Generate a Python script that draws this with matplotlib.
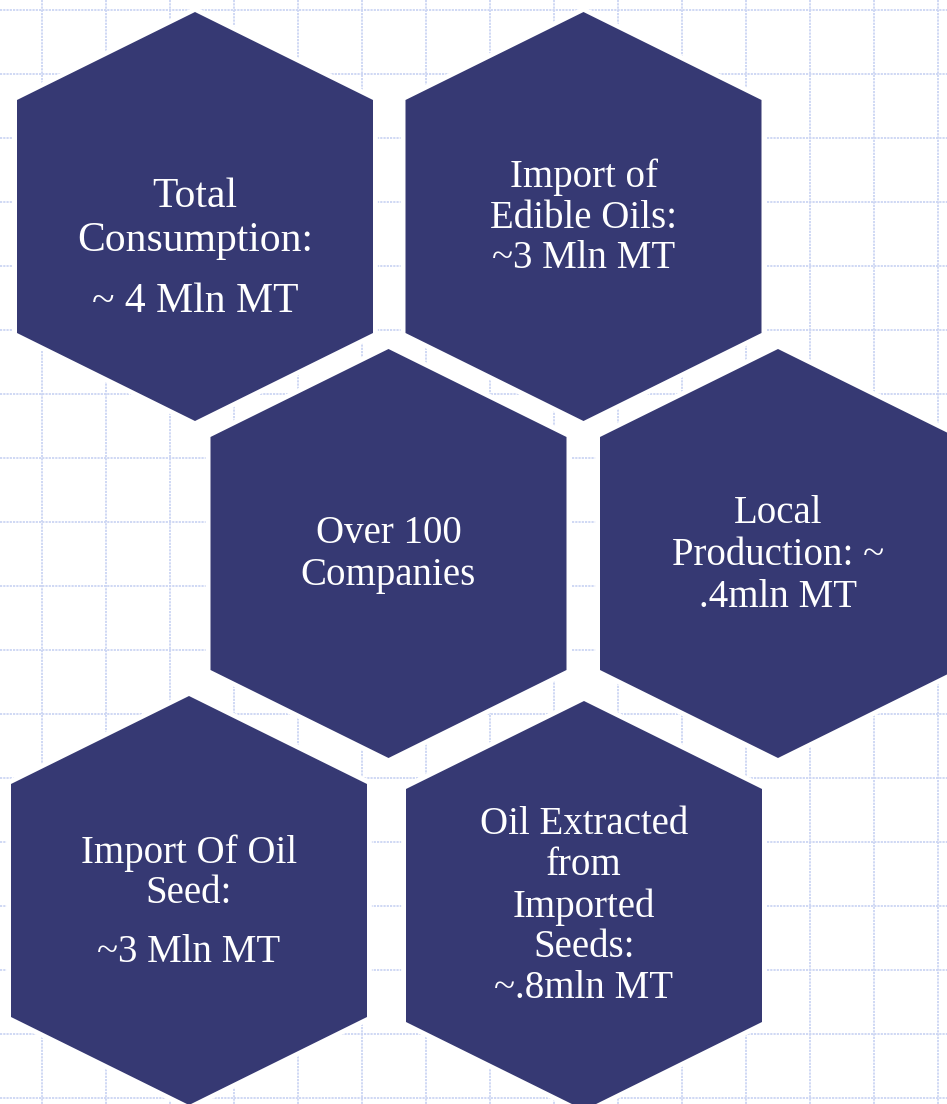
import numpy as np
import matplotlib
matplotlib.use("Agg")
import matplotlib.pyplot as plt
from matplotlib.patches import Polygon

# hexagon labels (one list of lines per hexagon) and baselines of each line (px from top)
labels = [
    ["Total", "Consumption:", "~ 4 Mln MT"],
    ["Import of", "Edible Oils:", "~3 Mln MT"],
    ["Over 100", "Companies"],
    ["Local", "Production: ~", ".4mln MT"],
    ["Import Of Oil", "Seed:", "~3 Mln MT"],
    ["Oil Extracted", "from", "Imported", "Seeds:", "~.8mln MT"],
]
baselines = [
    [207, 251, 312],
    [187, 228, 268],
    [543, 585],
    [523, 565, 607],
    [863, 903, 962],
    [834, 875, 917, 957, 998],
]
font_sizes = [30, 28, 28, 28, 28, 28]

# layout: hexagon centre x and top-vertex y, in pixels
hex_cx = [195, 583.5, 388.5, 778, 189, 584]
hex_top = [12, 12, 349, 349, 696, 701]
HW, DROP, SIDE = 356, 88, 233

W, H = 947, 1104
NAVY = "#363973"
GRID = "#ccd5f3"

fig = plt.figure(figsize=(W / 100, H / 100), dpi=100)
ax = fig.add_axes([0, 0, 1, 1])
ax.set_xlim(0, W); ax.set_ylim(H, 0)
ax.axis("off")

# dotted background grid
for gx in np.arange(42, W, 64):
    ax.plot([gx, gx], [0, H], color=GRID, lw=1.3, ls=(0, (1.2, 0.6)), zorder=1)
for gy in np.arange(10, H, 64):
    ax.plot([0, W], [gy, gy], color=GRID, lw=1.3, ls=(0, (1.2, 0.6)), zorder=1)

def hexagon(cx, top):
    l, r = cx - HW / 2, cx + HW / 2
    return [(cx, top), (r, top + DROP), (r, top + DROP + SIDE),
            (cx, top + 2 * DROP + SIDE), (l, top + DROP + SIDE), (l, top + DROP)]

for cx, top in zip(hex_cx, hex_top):
    pts = hexagon(cx, top)
    ax.add_patch(Polygon(pts, closed=True, facecolor="white", edgecolor="white",
                         lw=7, joinstyle="miter", zorder=2))
    ax.add_patch(Polygon(pts, closed=True, facecolor=NAVY, edgecolor="none", zorder=3))

for cx, lines, ys, fs in zip(hex_cx, labels, baselines, font_sizes):
    for s, y in zip(lines, ys):
        ax.text(cx, y, s, ha="center", va="baseline", color="white",
                fontsize=fs, family="Liberation Serif", zorder=4)

fig.savefig("out.png", dpi=100)
